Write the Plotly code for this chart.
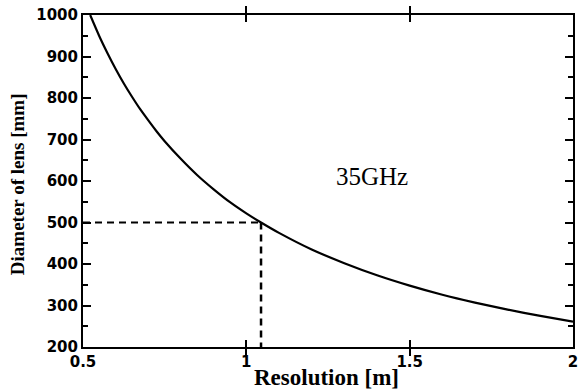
import plotly.graph_objects as go

# Curve: resolution [m] vs diameter of lens [mm]
resolution = [0.522, 0.55, 0.575, 0.60, 0.625, 0.65, 0.675, 0.70, 0.725, 0.75, 0.80,
              0.85, 0.90, 0.95, 1.00, 1.045, 1.10, 1.20, 1.30, 1.40, 1.50, 1.60,
              1.70, 1.80, 1.90, 2.00]
diameter = [1000, 949, 908, 870, 835, 803, 773, 746, 720, 696, 653,
            614, 580, 549, 522, 500, 475, 435, 402, 373, 348, 326,
            307, 290, 275, 261]

# Dashed guide lines
guide_h_x = [0.5, 1.045]
guide_h_y = [500, 500]
guide_v_x = [1.045, 1.045]
guide_v_y = [500, 200]

x_range = [0.5, 2]
x_tick_step = 0.5
y_range = [200, 1000]
y_tick_step = 100
y_minor_step = 50

label_text = "35GHz"
label_x, label_y = 1.385, 610
y_title = "Diameter of lens [mm]"
x_title = "Resolution [m]"

fig = go.Figure()
fig.add_trace(go.Scatter(x=resolution, y=diameter, mode="lines",
                         line=dict(color="black", width=2.2, shape="spline", smoothing=0.6),
                         showlegend=False))
fig.add_trace(go.Scatter(x=guide_h_x, y=guide_h_y, mode="lines",
                         line=dict(color="black", width=2, dash="7px,5px"),
                         showlegend=False))
fig.add_trace(go.Scatter(x=guide_v_x, y=guide_v_y, mode="lines",
                         line=dict(color="black", width=2.5, dash="7px,5px"),
                         showlegend=False))
# invisible trace that activates the axis carrying the small (50-step) ticks
fig.add_trace(go.Scatter(x=guide_h_x, y=guide_h_y, yaxis="y2", mode="lines",
                         line=dict(width=0), opacity=0, showlegend=False,
                         hoverinfo="skip"))

fig.add_annotation(x=label_x, y=label_y, text=label_text, showarrow=False,
                   font=dict(family="Liberation Serif", size=25, color="black"))
fig.add_annotation(xref="paper", yref="paper", x=-0.135, y=0.49, text=y_title,
                   textangle=-90, showarrow=False, xanchor="center", yanchor="middle",
                   font=dict(family="Liberation Serif", size=19, color="black",
                             weight="bold"))
fig.add_annotation(xref="paper", yref="paper", x=0.497, y=-0.093, text=x_title,
                   showarrow=False, xanchor="center", yanchor="middle",
                   font=dict(family="Liberation Serif", size=23, color="black",
                             weight="bold"))

tickfont = dict(family="DejaVu Sans", size=15, color="black", weight="bold")
fig.update_layout(
    xaxis=dict(range=x_range, tick0=x_range[0], dtick=x_tick_step,
               ticks="inside", ticklen=7, tickwidth=2, tickcolor="black",
               showline=True, linecolor="black", linewidth=2, mirror="allticks",
               showgrid=False, zeroline=False, tickfont=tickfont),
    yaxis=dict(range=y_range, tick0=y_range[0], dtick=y_tick_step,
               ticks="inside", ticklen=8, tickwidth=2, tickcolor="black",
               showline=True, linecolor="black", linewidth=2, mirror="allticks",
               showgrid=False, zeroline=False, tickfont=tickfont),
    yaxis2=dict(range=y_range, tick0=y_range[0], dtick=y_minor_step,
                overlaying="y", side="left",
                ticks="inside", ticklen=5, tickwidth=1.5, tickcolor="black",
                showline=False, mirror="allticks", showticklabels=False,
                showgrid=False, zeroline=False),
    width=584, height=390, margin=dict(l=83, r=6, t=15, b=43),
    plot_bgcolor="white", paper_bgcolor="white")

fig.write_html("out.html")
